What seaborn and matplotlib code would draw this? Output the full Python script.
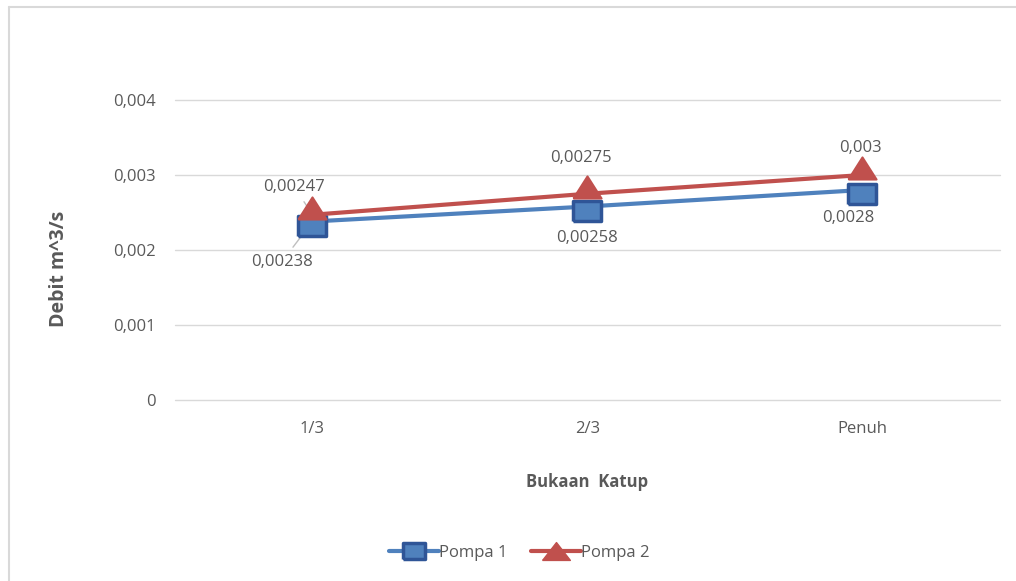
import matplotlib
matplotlib.use("Agg")
import matplotlib.pyplot as plt
import matplotlib.lines as mlines
import seaborn as sns

# data
kategori = ["1/3", "2/3", "Penuh"]
pompa1 = [0.00238, 0.00258, 0.0028]
pompa2 = [0.00247, 0.00275, 0.003]
label1 = ["0,00238", "0,00258", "0,0028"]
label2 = ["0,00247", "0,00275", "0,003"]
yticks = [0, 0.001, 0.002, 0.003, 0.004]
ytick_labels = ["0", "0,001", "0,002", "0,003", "0,004"]

sns.set_theme(style="white")
plt.rcParams["font.family"] = ["Open Sans", "DejaVu Sans"]

grey = "#595959"
blue, blue_edge = "#4F81BD", "#2F5597"
red = "#C0504D"
# marker shapes (wide rectangle, wide triangle sitting slightly above the point)
rect = [(-14, -14), (14, -14), (14, 6), (-14, 6), (-14, -14)]
tri = [(-14, -4), (14, -4), (0, 18), (-14, -4)]
# centred versions for the legend
rect_leg = [(-14, -10), (14, -10), (14, 10), (-14, 10), (-14, -10)]
tri_leg = [(-14, -9), (14, -9), (0, 9), (-14, -9)]

fig = plt.figure(figsize=(10.16, 5.81), dpi=100)
ax = fig.add_axes([0.1722, 0.3115, 0.812, 0.5164])

sns.lineplot(x=kategori, y=pompa1, ax=ax, color=blue, linewidth=3,
             marker=rect, markersize=20, markerfacecolor=blue,
             markeredgecolor=blue_edge, markeredgewidth=2.5, sort=False)
sns.lineplot(x=kategori, y=pompa2, ax=ax, color=red, linewidth=3,
             marker=tri, markersize=26, markerfacecolor=red,
             markeredgecolor=red, markeredgewidth=1.5, sort=False)

ax.set_xlim(-0.5, 2.5)
ax.set_ylim(0, 0.004)
ax.set_yticks(yticks)
ax.set_yticklabels(ytick_labels)
ax.tick_params(axis="both", length=0, labelsize=12, labelcolor=grey)
ax.tick_params(axis="y", pad=14)
ax.tick_params(axis="x", pad=15)
ax.yaxis.grid(True, color="#D9D9D9", linewidth=1)
for gl in ax.get_ygridlines():
    gl.set_clip_on(False)
for s in ax.spines.values():
    s.set_visible(False)
ax.set_axisbelow(True)

ax.set_xlabel("Bukaan  Katup", fontsize=12, fontweight="bold", color=grey, labelpad=26)
ax.set_ylabel("Debit m^3/s", fontsize=14, fontweight="bold", color=grey)
ax.yaxis.set_label_coords(-0.128, 0.437)

# data labels (offsets in points)
off1 = [(-22, -29), (0, -23), (-10, -20)]
off2 = [(-13, 20), (-5, 26), (-1.5, 19.5)]
leader = dict(arrowstyle="-", color="#BFBFBF", lw=1, shrinkA=3, shrinkB=3)
for i in range(3):
    ax.annotate(label1[i], (i, pompa1[i]), xytext=off1[i], textcoords="offset points",
                ha="center", va="center", fontsize=12, color=grey, zorder=1.5,
                arrowprops=leader if i == 0 else None)
    ax.annotate(label2[i], (i, pompa2[i]), xytext=off2[i], textcoords="offset points",
                ha="center", va="center", fontsize=12, color=grey, zorder=1.5,
                arrowprops=leader if i == 0 else None)

h1 = mlines.Line2D([], [], color=blue, linewidth=3, marker=rect_leg, markersize=16,
                   markerfacecolor=blue, markeredgecolor=blue_edge, markeredgewidth=2.5)
h2 = mlines.Line2D([], [], color=red, linewidth=3, marker=tri_leg, markersize=20,
                   markerfacecolor=red, markeredgecolor=red)
fig.legend([h1, h2], ["Pompa 1", "Pompa 2"], loc="center", bbox_to_anchor=(0.511, 0.048),
           ncol=2, frameon=False, fontsize=12, labelcolor=grey, handlelength=3.0,
           handletextpad=0.0, columnspacing=1.4)

# chart frame (top and left edges visible)
fig.add_artist(mlines.Line2D([0.009, 1.0], [0.988, 0.988], color="#D9D9D9", lw=1.5))
fig.add_artist(mlines.Line2D([0.009, 0.009], [0.0, 0.988], color="#D9D9D9", lw=1.5))

fig.savefig("out.png", dpi=100)
